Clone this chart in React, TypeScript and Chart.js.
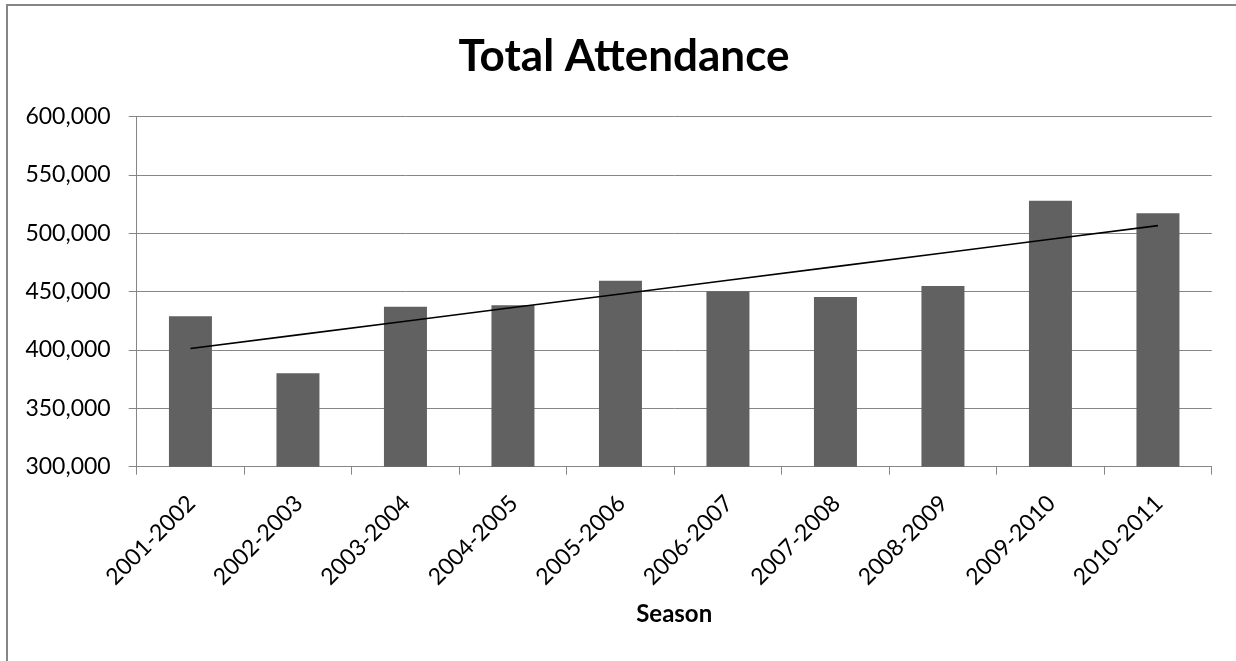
import React, { useEffect, useRef } from "react";
import { Chart, registerables } from "chart.js";

Chart.register(...registerables);

// Season labels along the category axis
const seasons = [
  "2001-2002",
  "2002-2003",
  "2003-2004",
  "2004-2005",
  "2005-2006",
  "2006-2007",
  "2007-2008",
  "2008-2009",
  "2009-2010",
  "2010-2011",
];

// Total attendance per season
const attendance = [429000, 380000, 437000, 438300, 459400, 450300, 445400, 454900, 528000, 517200];

// Value axis range and tick spacing
const yMin = 300000;
const yMax = 600000;
const yStep = 50000;

const chartTitle = "Total Attendance";
const xAxisTitle = "Season";

// Least-squares linear trend through the attendance values
function linearTrend(values: number[]): number[] {
  const n = values.length;
  const xMean = (n - 1) / 2;
  const yMean = values.reduce((a, b) => a + b, 0) / n;
  let sxy = 0;
  let sxx = 0;
  values.forEach((v, i) => {
    sxy += (i - xMean) * (v - yMean);
    sxx += (i - xMean) * (i - xMean);
  });
  const slope = sxy / sxx;
  return values.map((_, i) => yMean + slope * (i - xMean));
}

const FONT = "Lato, 'Open Sans', sans-serif";
const GRID = "#868686";

// Frame around the chart (open to the right and bottom edges) and the chart heading
const framePlugin = {
  id: "frame",
  beforeDraw(chart: Chart) {
    const ctx = chart.ctx;
    ctx.save();
    ctx.fillStyle = "#ffffff";
    ctx.fillRect(0, 0, chart.width, chart.height);
    ctx.strokeStyle = GRID;
    ctx.lineWidth = 2;
    ctx.beginPath();
    ctx.moveTo(7, chart.height + 5);
    ctx.lineTo(7, 5);
    ctx.lineTo(chart.width + 5, 5);
    ctx.stroke();

    ctx.fillStyle = "#000000";
    ctx.font = `bold 44px ${FONT}`;
    ctx.textAlign = "center";
    ctx.textBaseline = "alphabetic";
    ctx.fillText(chartTitle, 624, 71);
    ctx.restore();
  },
};

export default function App() {
  const canvasRef = useRef<HTMLCanvasElement | null>(null);

  useEffect(() => {
    const canvas = canvasRef.current;
    if (!canvas) return;
    const chart = new Chart(canvas, {
      type: "bar",
      data: {
        labels: seasons,
        datasets: [
          {
            type: "line",
            label: "Trend",
            data: linearTrend(attendance),
            borderColor: "#000000",
            borderWidth: 1.6,
            pointRadius: 0,
            fill: false,
            order: 0,
          },
          {
            type: "bar",
            label: "Total Attendance",
            data: attendance,
            backgroundColor: "#616161",
            barPercentage: 0.4,
            categoryPercentage: 1,
            order: 1,
          },
        ],
      },
      options: {
        responsive: false,
        animation: false,
        devicePixelRatio: 1,
        layout: { padding: { left: 0, right: 24.3, top: 116.7, bottom: 0 } },
        plugins: {
          legend: { display: false },
          tooltip: { enabled: false },
          title: { display: false },
        },
        scales: {
          x: {
            offset: true,
            grid: {
              offset: true,
              drawOnChartArea: false,
              drawTicks: true,
              tickLength: 8,
              color: GRID,
              lineWidth: 1,
            },
            border: { display: true, color: GRID, width: 1 },
            ticks: {
              color: "#000000",
              font: { family: FONT, size: 23 },
              minRotation: 45,
              maxRotation: 45,
              autoSkip: false,
              padding: 15,
              labelOffset: 1,
            },
            title: {
              display: true,
              text: xAxisTitle,
              color: "#000000",
              font: { family: FONT, size: 24, weight: "bold", lineHeight: 1.2 },
              padding: { top: 0, bottom: 32 },
            },
            afterFit(scale: any) {
              scale.height = 661 - 466.7;
            },
          },
          y: {
            min: yMin,
            max: yMax,
            grid: {
              color: GRID,
              lineWidth: 1,
              drawTicks: true,
              tickLength: 8,
            },
            border: { display: true, color: GRID, width: 1 },
            ticks: {
              stepSize: yStep,
              color: "#000000",
              font: { family: FONT, size: 23 },
              padding: 18,
              callback: (v: any) => Number(v).toLocaleString("en-US"),
            },
            afterFit(scale: any) {
              scale.width = 136.7;
            },
          },
        },
      },
      plugins: [framePlugin],
    });
    return () => chart.destroy();
  }, []);

  return (
    <div style={{ position: "absolute", left: 0, top: 0, width: 1236, height: 661 }}>
      <canvas ref={canvasRef} width={1236} height={661} style={{ display: "block" }} />
    </div>
  );
}
